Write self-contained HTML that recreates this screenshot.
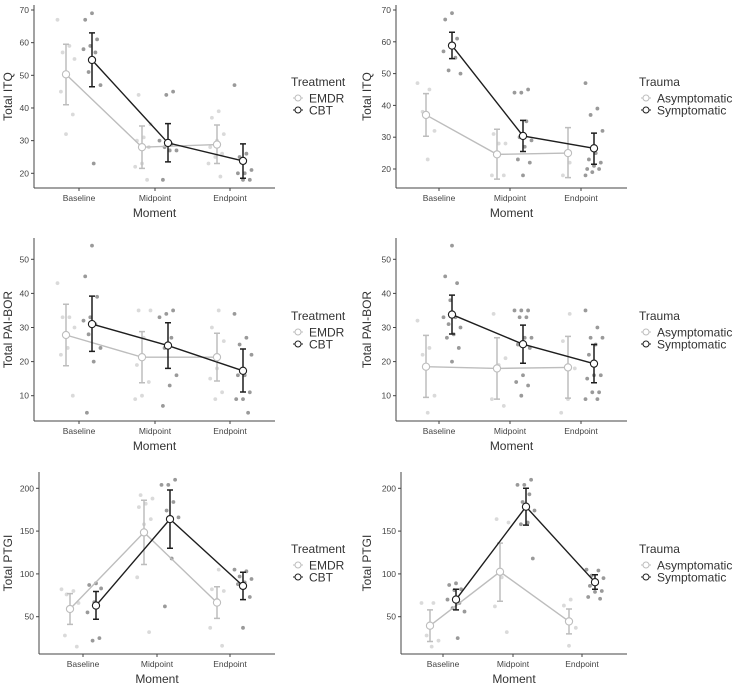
<!DOCTYPE html>
<html><head><meta charset="utf-8">
<style>
body{margin:0;background:#fff;}
svg{display:block;font-family:"Liberation Sans",Arial,sans-serif;}
</style></head>
<body>
<svg id="c" width="739" height="688" viewBox="0 0 739 688"></svg>
<script>
const categories = ["Baseline","Midpoint","Endpoint"];
// Panel 1: ITQ by Treatment
const p1Means = [[50.3,28,28.8],[54.7,29.3,23.8]];
const p1Lo = [[41,21.5,23],[46.5,23.5,18.5]];
const p1Hi = [[59.5,34.5,34.8],[63,35.2,29]];
const p1Pts = [[[67,59,57,55,50,45,38,32],[44,35,31,30,28,23,22,18],[39,37,32,30,28,26,25,23,19]],
               [[69,67,61,59,58,57,51,47,23],[45,44,30,29,28,27,27,18],[47,26,25,21,20,20,18,18]]];
const p1Ticks = [20,30,40,50,60,70];
// Panel 2: ITQ by Trauma
const p2Means = [[37,24.6,25],[58.8,30.4,26.5]];
const p2Lo = [[30.3,16.8,17.3],[54.7,25.5,21.5]];
const p2Hi = [[43.7,32.5,33],[63,35.3,31.3]];
const p2Pts = [[[47,45,38,32,23],[31,28,28,18,18],[22,18]],
               [[69,67,61,59,57,55,51,50],[45,44,44,35,30,29,27,23,22,18],[47,39,37,32,25,23,22,21,20,20,19,18]]];
const p2Ticks = [20,30,40,50,60,70];
// Panel 3: PAI-BOR by Treatment
const p3Means = [[27.8,21.3,21.3],[31,24.7,17.3]];
const p3Lo = [[18.8,13.8,14.3],[23,18,11.1]];
const p3Hi = [[36.8,28.8,28.3],[39.2,31.4,23.7]];
const p3Pts = [[[43,33,33,30,24,22,10],[35,35,27,19,14,10,9],[35,30,26,18,15,11,9]],
               [[54,45,39,33,32,31,28,24,20,5],[35,34,33,27,24,16,13,7],[34,27,25,22,16,16,11,9,9,5]]];
const p3Ticks = [10,20,30,40,50];
// Panel 4: PAI-BOR by Trauma
const p4Means = [[18.5,18,18.3],[33.8,25.1,19.4]];
const p4Lo = [[9.5,9,9.3],[28.1,19.5,13.8]];
const p4Hi = [[27.7,27,27.4],[39.5,30.7,25]];
const p4Pts = [[[32,24,22,10,5],[34,21,19,9,7],[34,26,18,9,5]],
               [[54,45,43,38,33,33,31,30,28,27,24,20],[35,35,35,33,33,27,27,25,24,16,14,13,10],[35,30,27,27,25,22,16,16,15,11,11,9,9]]];
const p4Ticks = [10,20,30,40,50];
// Panel 5: PTGI by Treatment
const p5Means = [[59,148.5,66.5],[63,164,86]];
const p5Lo = [[41,111,48],[47,130,70]];
const p5Hi = [[77,186,85],[79.5,198,102]];
const p5Pts = [[[82,80,76,66,60,28,15],[192,188,182,178,164,158,96,32],[105,82,80,70,37,16]],
               [[89,87,83,67,55,25,22],[210,204,204,184,174,166,118,62],[105,103,97,94,90,88,73,37]]];
const p5Ticks = [50,100,150,200];
// Panel 6: PTGI by Trauma
const p6Means = [[39.5,102.5,44.5],[70,178.5,90.3]];
const p6Lo = [[21,68,30],[58,157,82]];
const p6Hi = [[58,136,59],[82,200,99]];
const p6Pts = [[[66,66,28,22,15],[164,160,96,62,32],[70,63,37,16]],
               [[89,87,82,81,70,66,60,56,25],[210,204,204,193,184,174,160,158,118],[105,104,98,95,92,86,80,79,73,71]]];
const p6Ticks = [50,100,150,200];
const groupsT = ["EMDR","CBT"];
const groupsR = ["Asymptomatic","Symptomatic"];

const NS="http://www.w3.org/2000/svg";
const svg=document.getElementById('c');
function el(tag,attrs,parent,txt){const e=document.createElementNS(NS,tag);for(const k in attrs)e.setAttribute(k,attrs[k]);if(txt!=null)e.textContent=txt;(parent||svg).appendChild(e);return e;}

function panel(g){
  const G=el('g',{},svg);
  
  
  const y=v=>g.yA+(v-g.vA)*(g.yB-g.yA)/(g.vB-g.vA);
  const x=(c,k)=>g.cx[c]+(k===0?-13:13);
  const cols=["#bdbdbd","#1e1e1e"], pcols=["#dadada","#9a9a9a"];
  const ax=el('line',{x1:g.ax,y1:g.top,x2:g.ax,y2:g.bot,stroke:'#444','stroke-width':1},G);
  
  const bx=el('line',{x1:g.ax,y1:g.bot,x2:g.right,y2:g.bot,stroke:'#444','stroke-width':1},G);
  
  g.ticks.forEach(t=>{
    el('line',{x1:g.ax-3,x2:g.ax,y1:y(t),y2:y(t),stroke:'#444'},G);
    const tl=el('text',{x:g.ax-5,y:y(t)+3,'text-anchor':'end','font-size':8.5,fill:'#444'},G,t);
    
  });
  categories.forEach((c,i)=>{
    el('line',{x1:g.cx[i],x2:g.cx[i],y1:g.bot,y2:g.bot+3,stroke:'#444'},G);
    const tl=el('text',{x:g.cx[i],y:g.bot+13,'text-anchor':'middle','font-size':8.5,fill:'#444'},G,c);
    
  });
  const xt=el('text',{x:(g.ax+g.right)/2,y:g.bot+29,'text-anchor':'middle','font-size':12,fill:'#333'},G,'Moment');
  
  const yt=el('text',{x:0,y:0,'text-anchor':'middle','font-size':12,fill:'#333',transform:`translate(${g.ytx},${(g.top+g.bot)/2}) rotate(-90)`},G,g.ytitle);
  
  for(let k=0;k<2;k++){
    g.pts[k].forEach((arr,c)=>arr.forEach((v,i)=>{
      const j=(((i*7+c*3+k*5)%11)-5)*1.7;
      const p=el('circle',{cx:x(c,k)+j,cy:y(v),r:1.9,fill:pcols[k]},G);
      
    }));
  }
  for(let k=0;k<2;k++){
    const d=g.means[k].map((m,c)=>(c?'L':'M')+x(c,k)+','+y(m)).join(' ');
    const ln=el('path',{d:d,fill:'none',stroke:cols[k],'stroke-width':1.4},G);
    
    g.means[k].forEach((m,c)=>{
      const xx=x(c,k);
      const eb=el('path',{d:`M${xx-3},${y(g.lo[k][c])}H${xx+3}M${xx},${y(g.lo[k][c])}V${y(g.hi[k][c])}M${xx-3},${y(g.hi[k][c])}H${xx+3}`,stroke:cols[k],'stroke-width':1.5,fill:'none'},G);
      
    });
  }
  for(let k=0;k<2;k++){
    g.means[k].forEach((m,c)=>{
      const mp=el('circle',{cx:x(c,k),cy:y(m),r:3.6,fill:'#fff',stroke:cols[k],'stroke-width':1.1},G);
      
    });
  }
  const L=el('g',{},G);
  
  el('text',{x:g.lx-6,y:g.ly+4,'font-size':12,fill:'#333'},L,g.ltitle);
  for(let k=0;k<2;k++){
    const yy=g.ly+16+k*12;
    el('line',{x1:g.lx-4,x2:g.lx+6,y1:yy,y2:yy,stroke:cols[k],'stroke-width':1},L);
    el('circle',{cx:g.lx+1,cy:yy,r:3,fill:'#fff',stroke:cols[k]},L);
    const e=el('text',{x:g.lx+12,y:yy+4.5,'font-size':12,fill:'#333'},L,g.groups[k]);
    
  }
}
panel({name:'itq-treatment-panel',means:p1Means,lo:p1Lo,hi:p1Hi,pts:p1Pts,ticks:p1Ticks,vA:20,yA:173.3,vB:70,yB:10,ax:34,top:5,bot:188,right:275,cx:[79,155,230],ytx:12,ytitle:'Total ITQ',groups:groupsT,ltitle:'Treatment',lx:297,ly:82});
panel({name:'itq-trauma-panel',means:p2Means,lo:p2Lo,hi:p2Hi,pts:p2Pts,ticks:p2Ticks,vA:20,yA:169,vB:70,yB:10,ax:396,top:5,bot:188,right:627,cx:[439,510,581],ytx:371,ytitle:'Total ITQ',groups:groupsR,ltitle:'Trauma',lx:645,ly:82});
panel({name:'paibor-treatment-panel',means:p3Means,lo:p3Lo,hi:p3Hi,pts:p3Pts,ticks:p3Ticks,vA:10,yA:395.7,vB:50,yB:259.3,ax:34,top:238,bot:421,right:275,cx:[79,155,230],ytx:12,ytitle:'Total PAI-BOR',groups:groupsT,ltitle:'Treatment',lx:297,ly:316});
panel({name:'paibor-trauma-panel',means:p4Means,lo:p4Lo,hi:p4Hi,pts:p4Pts,ticks:p4Ticks,vA:10,yA:395.7,vB:50,yB:259.3,ax:396,top:238,bot:421,right:627,cx:[439,510,581],ytx:371,ytitle:'Total PAI-BOR',groups:groupsR,ltitle:'Trauma',lx:645,ly:316});
panel({name:'ptgi-treatment-panel',means:p5Means,lo:p5Lo,hi:p5Hi,pts:p5Pts,ticks:p5Ticks,vA:50,yA:616.7,vB:200,yB:488.3,ax:39,top:472,bot:654,right:275,cx:[83,157,230],ytx:12,ytitle:'Total PTGI',groups:groupsT,ltitle:'Treatment',lx:297,ly:549});
panel({name:'ptgi-trauma-panel',means:p6Means,lo:p6Lo,hi:p6Hi,pts:p6Pts,ticks:p6Ticks,vA:50,yA:616.7,vB:200,yB:488.3,ax:401,top:472,bot:654,right:627,cx:[443,513,582],ytx:371,ytitle:'Total PTGI',groups:groupsR,ltitle:'Trauma',lx:645,ly:549});
</script>
</body></html>
